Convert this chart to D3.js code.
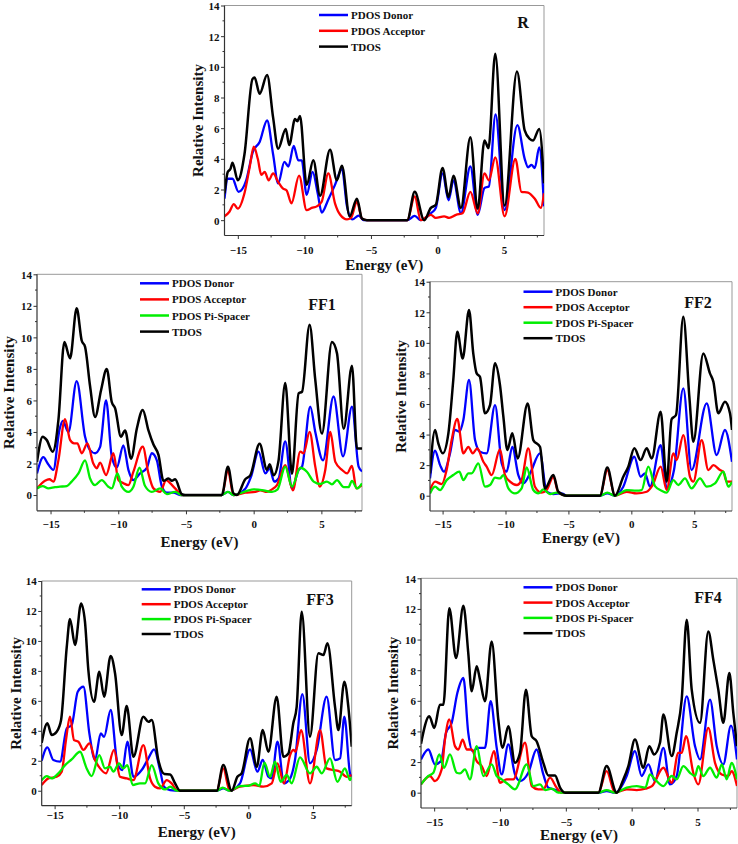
<!DOCTYPE html>
<html><head><meta charset="utf-8">
<script src="https://cdn.jsdelivr.net/npm/d3@7"></script>
<style>
html,body{margin:0;padding:0;background:#fff;}
svg text{font-family:"Liberation Serif","Times New Roman",serif;font-weight:bold;fill:#111;}
</style></head>
<body>
<svg id="chart" width="738" height="844"></svg>
<script>
// ---------- data (Energy eV, Relative Intensity) ----------
const seriesNames = ["PDOS Donor","PDOS Acceptor","PDOS Pi-Spacer","TDOS"];
const xTicks = [-15,-10,-5,0,5];
const yTicks = [0,2,4,6,8,10,12,14];

const R_donor = [[-16,1.4],[-15.75,2.7],[-15.4,2.7],[-14.95,1.85],[-14.37,2.6],[-13.87,4.45],[-13.36,5.1],[-12.8,6.5],[-12.35,4.3],[-11.97,2.4],[-11.5,3.8],[-11.2,3.5],[-10.8,4.85],[-10.46,3.9],[-10.2,3.9],[-9.83,1.65],[-9.38,3.15],[-9.0,1.75],[-8.7,0.5],[-8.2,1.35],[-7.7,2.3],[-7.18,3.35],[-6.8,0.9],[-6.4,0.05],[-5.92,0.3],[-5.55,0],[-2.27,0],[-1.71,0.28],[-1.26,0],[-0.5,0.45],[-0.13,0.8],[0.38,3.05],[0.83,1.3],[1.2,2.6],[1.76,0.45],[2.47,3.5],[3.02,0.35],[3.53,2.1],[3.86,2.2],[4.36,6.9],[5.04,0.65],[6.0,6.2],[6.55,4.0],[6.8,3.45],[7.06,3.6],[7.31,3.4],[7.64,4.75],[8.0,0.9]];
const R_acceptor = [[-16,0.25],[-15.63,0.55],[-15.3,1.05],[-15.0,0.75],[-14.5,1.75],[-14.1,3.5],[-13.8,4.8],[-13.5,4.0],[-13.23,2.95],[-12.98,3.15],[-12.68,2.6],[-12.35,3.05],[-11.97,2.5],[-11.6,2.05],[-11.34,1.95],[-10.97,1.1],[-10.4,2.9],[-9.83,0.65],[-9.45,0.8],[-9.07,0.9],[-8.7,1.2],[-8.2,3.05],[-7.7,1.1],[-7.31,0.35],[-6.8,0.05],[-6.5,0.15],[-6.05,1.2],[-5.67,0.1],[-5.3,0],[-2.27,0],[-1.71,1.55],[-1.26,0],[-0.5,0.35],[-0.13,0.15],[0.5,0.25],[0.88,0.15],[1.39,0.35],[1.89,0.45],[2.47,1.85],[3.02,0.45],[3.53,3.05],[3.86,2.6],[4.34,4.1],[5.04,0.25],[5.85,4.0],[6.3,1.85],[6.8,1.8],[7.31,1.4],[7.76,0.8],[8.0,1.75]];
const R_tdos = [[-16,1.75],[-15.75,3.15],[-15.55,3.35],[-15.4,3.75],[-15.0,2.6],[-14.5,4.3],[-13.9,9.2],[-13.74,9.3],[-13.36,8.25],[-12.8,9.47],[-12.35,6.7],[-11.97,4.66],[-11.4,5.95],[-11.14,4.9],[-10.7,6.6],[-10.53,6.45],[-10.33,6.8],[-9.83,2.3],[-9.33,3.9],[-8.82,1.6],[-8.07,4.6],[-7.56,2.6],[-7.18,3.55],[-6.6,0.25],[-6.05,1.4],[-5.67,0.1],[-5.3,0],[-2.27,0],[-1.71,1.85],[-1.0,0],[-0.5,0.8],[-0.13,1.0],[0.38,3.4],[0.83,1.5],[1.2,2.9],[1.76,0.8],[2.47,5.4],[3.02,0.75],[3.53,5.2],[3.83,4.7],[4.34,10.85],[5.04,0.95],[5.97,9.7],[6.55,5.85],[6.93,5.3],[7.18,5.2],[7.64,5.95],[8.0,2.4]];

const FF1_donor = [[-16,1.37],[-15.53,2.4],[-15.21,2.0],[-14.79,1.6],[-14.35,4.1],[-14.1,4.7],[-13.68,4.0],[-13.07,7.23],[-12.45,3.7],[-12.08,2.85],[-11.71,2.65],[-11.34,3.05],[-10.9,6.0],[-10.48,2.45],[-10.11,1.75],[-9.62,3.15],[-9.25,1.6],[-8.88,0.95],[-8.39,1.37],[-7.9,1.7],[-7.52,2.65],[-7.15,2.2],[-6.78,0.55],[-6.41,0.15],[-5.92,0.15],[-5.43,0],[-2.35,0],[-1.9,0.2],[-1.49,0],[-0.62,0.4],[-0.2,1.15],[0.36,2.75],[0.86,1.37],[1.18,1.7],[1.52,0.85],[1.84,1.05],[2.33,3.4],[2.83,0.42],[3.32,1.6],[3.57,1.8],[4.18,5.6],[4.55,4.0],[5.12,2.2],[5.9,6.25],[6.6,2.45],[7.26,5.6],[7.75,1.8],[8.0,1.5]];
const FF1_acceptor = [[-16,0.42],[-15.41,0.9],[-15.09,1.0],[-14.79,0.85],[-14.42,2.2],[-13.93,4.82],[-13.56,3.5],[-13.26,3.28],[-13.02,3.28],[-12.7,2.65],[-12.28,3.28],[-11.84,2.0],[-11.59,1.7],[-11.34,2.05],[-10.9,1.27],[-10.36,2.65],[-9.99,0.95],[-9.62,0.75],[-9.25,0.63],[-8.88,1.48],[-8.19,3.07],[-7.77,1.37],[-7.4,0.42],[-6.9,0.2],[-6.46,0.95],[-6.17,0.75],[-5.8,0.42],[-5.3,0],[-2.35,0],[-1.9,1.55],[-1.49,0],[-0.62,0.15],[0.12,0.2],[0.48,0.3],[0.98,0.2],[1.35,0.36],[1.72,0.63],[2.33,1.9],[2.9,0.3],[3.44,2.75],[3.69,2.65],[4.13,4.0],[4.55,1.8],[4.87,0.53],[5.29,1.6],[5.66,4.0],[6.03,2.1],[6.52,1.6],[6.9,1.37],[7.26,1.85],[7.58,0.42],[8.0,0.63]];
const FF1_spacer = [[-16,0.42],[-15.58,0.57],[-15.16,0.42],[-14.67,0.5],[-14.3,0.53],[-13.8,0.57],[-13.44,0.85],[-12.94,1.37],[-12.45,2.2],[-12.08,1.05],[-11.71,0.63],[-11.22,0.95],[-10.73,0.53],[-10.48,0.42],[-10.06,1.37],[-9.74,0.53],[-9.25,0.2],[-8.88,0.53],[-8.43,1.73],[-8.02,0.57],[-7.52,0.2],[-6.9,0.42],[-6.41,0.06],[-5.8,0.2],[-5.3,0],[-2.35,0],[-1.9,0.2],[-1.49,0],[-0.5,0.27],[0.0,0.36],[0.74,0.3],[1.35,0.2],[1.77,0.36],[2.33,1.8],[2.83,0.53],[3.44,1.73],[3.93,1.48],[4.43,0.85],[4.92,0.7],[5.41,0.85],[5.78,0.68],[6.15,0.95],[6.65,0.5],[7.0,0.5],[7.26,0.9],[7.63,0.42],[8.0,0.74]];
const FF1_tdos = [[-16,2.1],[-15.58,3.7],[-15.29,3.5],[-14.84,2.75],[-14.42,4.75],[-13.98,9.7],[-13.56,8.67],[-13.07,11.85],[-12.7,9.8],[-12.45,9.4],[-12.08,6.9],[-11.71,4.95],[-11.27,6.65],[-10.85,8.0],[-10.48,5.9],[-10.23,5.5],[-9.8,3.7],[-9.5,4.1],[-9.05,2.3],[-8.63,4.2],[-8.19,5.4],[-7.77,4.1],[-7.4,3.2],[-7.03,2.55],[-6.66,0.9],[-6.29,1.05],[-6.04,0.9],[-5.8,1.0],[-5.3,0.05],[-5.05,0],[-2.35,0],[-1.9,1.8],[-1.49,0.1],[-1.24,0],[-0.62,1.0],[-0.25,1.25],[0.44,3.25],[0.98,1.6],[1.18,1.95],[1.47,1.25],[1.84,2.2],[2.33,7.1],[2.83,1.35],[3.32,6.45],[3.57,6.55],[4.13,10.8],[4.55,7.3],[5.04,3.9],[5.78,9.7],[6.15,9.0],[6.65,4.2],[7.26,8.2],[7.63,2.95],[8.0,2.95]];

const FF2_donor = [[-16,1.13],[-15.6,2.94],[-15.2,2.0],[-14.89,1.57],[-14.41,2.77],[-14.01,4.3],[-13.67,4.19],[-13.35,4.95],[-12.9,7.57],[-12.42,3.64],[-12.03,2.88],[-11.5,2.77],[-10.83,5.93],[-10.3,2.12],[-9.91,1.57],[-9.46,3.2],[-8.98,1.35],[-8.58,0.81],[-8.05,1.46],[-7.26,2.77],[-6.73,0.26],[-6.2,0.11],[-5.54,0.15],[-5.14,0],[-2.49,0],[-1.91,0.15],[-1.3,0],[-0.64,0.59],[0.24,2.55],[0.74,1.24],[1.09,1.46],[1.48,0.59],[2.33,3.31],[2.81,0.48],[3.39,1.68],[4.13,7.02],[4.79,1.68],[5.99,6.04],[6.78,2.66],[7.44,4.3],[8.0,2.22]];
const FF2_acceptor = [[-16,0.37],[-15.6,0.92],[-15.07,0.76],[-14.68,1.68],[-14.28,3.64],[-13.83,5.02],[-13.35,2.77],[-12.95,3.2],[-12.61,2.77],[-12.24,3.1],[-11.76,2.22],[-11.5,1.9],[-11.1,1.35],[-10.44,3.03],[-10.04,1.35],[-9.64,0.92],[-9.11,0.7],[-8.72,1.02],[-8.19,3.1],[-7.66,0.59],[-7.13,0.2],[-6.73,0.37],[-6.2,1.24],[-5.8,0.2],[-5.14,0],[-2.49,0],[-1.91,1.68],[-1.3,0],[-0.37,0.26],[0.42,0.15],[1.22,0.26],[1.7,0.7],[2.33,1.9],[2.81,0.37],[3.34,2.77],[3.6,2.33],[4.13,3.97],[4.66,1.24],[4.93,0.92],[5.59,3.64],[6.12,1.68],[6.52,2.0],[7.05,1.68],[7.31,1.57],[7.58,0.92],[8.0,0.92]];
const FF2_spacer = [[-16,0.15],[-15.6,0.59],[-15.2,0.37],[-14.68,1.02],[-14.15,1.35],[-13.67,1.57],[-13.35,1.02],[-12.95,1.46],[-12.69,1.46],[-12.16,2.12],[-11.63,0.59],[-11.23,0.7],[-10.83,1.18],[-10.44,1.13],[-10.17,1.35],[-9.77,0.48],[-9.25,0.15],[-8.72,0.48],[-8.32,1.85],[-7.79,0.37],[-7.39,0.15],[-6.99,0.41],[-6.46,0.11],[-5.94,0.2],[-5.14,0],[-2.49,0],[-1.91,0.2],[-1.3,0],[-0.37,0.37],[0.42,0.33],[0.82,0.37],[1.35,1.9],[1.88,0.63],[2.41,0.33],[2.81,0.2],[3.34,1.02],[3.74,0.7],[4.26,1.13],[4.79,0.48],[5.46,1.13],[5.99,0.59],[6.65,0.81],[7.31,1.57],[7.71,0.59],[8.0,0.92]];
const FF2_tdos = [[-16,1.46],[-15.6,4.3],[-15.34,3.42],[-14.99,2.77],[-14.54,4.08],[-14.15,7.57],[-13.83,10.73],[-13.4,8.98],[-12.9,12.15],[-12.56,9.3],[-12.29,8.0],[-12.03,7.78],[-11.63,5.39],[-11.23,5.93],[-10.83,8.66],[-10.44,7.24],[-10.17,5.17],[-9.85,2.99],[-9.46,4.08],[-9.03,2.44],[-8.24,6.04],[-7.79,3.64],[-7.26,3.2],[-6.86,0.48],[-6.2,1.35],[-5.8,0.26],[-5.14,0],[-2.49,0],[-1.91,1.85],[-1.3,0],[-0.64,1.24],[-0.24,1.9],[0.24,3.1],[0.74,2.33],[1.22,3.1],[1.62,2.44],[2.33,5.5],[2.81,0.92],[3.2,5.0],[3.55,5.28],[4.13,11.7],[4.61,6.48],[4.93,3.53],[5.72,9.31],[6.25,8.0],[6.52,7.46],[6.91,5.39],[7.44,6.15],[7.84,5.39],[8.0,4.3]];

const FF3_donor = [[-16,2.0],[-15.56,2.89],[-15.1,2.05],[-14.58,1.94],[-14.06,4.16],[-13.68,4.38],[-13.21,6.61],[-12.77,6.94],[-12.31,3.83],[-11.87,2.05],[-11.43,3.83],[-11.17,3.6],[-10.66,5.39],[-10.14,1.83],[-9.75,1.38],[-9.37,3.27],[-8.9,0.93],[-8.26,1.38],[-7.74,2.16],[-7.3,2.76],[-6.84,1.38],[-6.53,0.27],[-6.06,0.04],[-5.29,0],[-2.45,0],[-1.94,0.16],[-1.45,0],[-0.65,0.49],[0.13,2.76],[0.7,1.27],[1.11,2.05],[1.55,0.93],[1.81,0.82],[2.25,3.27],[2.76,0.49],[3.23,0.82],[3.61,2.05],[4.18,6.45],[4.77,1.83],[5.29,2.72],[6.06,6.28],[6.71,2.05],[7.1,2.16],[7.43,4.94],[7.87,1.16],[8.0,0.93]];
const FF3_acceptor = [[-16,0.38],[-15.48,0.82],[-14.84,0.93],[-14.45,1.27],[-14.12,3.38],[-13.81,4.94],[-13.5,3.38],[-13.16,3.27],[-12.77,2.72],[-12.31,3.16],[-11.87,2.05],[-11.48,1.49],[-11.02,1.16],[-10.4,2.72],[-9.94,0.93],[-9.42,0.82],[-8.9,0.71],[-8.13,3.05],[-7.61,0.82],[-7.23,0.27],[-6.84,0.16],[-6.32,0.71],[-5.94,0.49],[-5.55,0.04],[-5.29,0],[-2.45,0],[-1.94,1.49],[-1.45,0],[-0.65,0.27],[0.39,0.38],[1.16,0.27],[1.81,0.49],[2.25,1.83],[2.76,0.49],[3.23,2.38],[3.5,2.72],[3.65,2.6],[4.08,4.05],[4.77,0.49],[5.55,4.05],[6.06,1.49],[6.58,1.38],[7.1,1.27],[7.61,0.93],[8.0,1.05]];
const FF3_spacer = [[-16,0.7],[-15.61,0.98],[-15.23,0.82],[-14.71,1.16],[-14.19,1.71],[-13.68,2.09],[-13.03,2.6],[-12.52,1.49],[-12.13,0.98],[-11.54,2.38],[-11.1,1.49],[-10.71,1.6],[-10.45,1.27],[-10.01,1.83],[-9.68,1.49],[-9.37,1.71],[-8.95,0.38],[-8.39,0.49],[-8.0,0.49],[-7.48,1.71],[-6.97,0.49],[-6.45,0.09],[-6.06,0.27],[-5.55,0],[-2.45,0],[-1.99,0.2],[-1.45,0],[-0.65,0.31],[0.0,0.33],[0.52,0.49],[0.85,0.33],[1.24,1.87],[1.68,0.93],[2.06,1.94],[2.5,0.6],[2.97,1.05],[3.35,0.49],[4.0,2.23],[4.77,1.16],[5.29,1.6],[5.68,1.16],[6.32,2.16],[6.89,0.6],[7.48,1.49],[7.87,0.71],[8.0,0.93]];
const FF3_tdos = [[-16,3.2],[-15.56,4.5],[-15.23,3.72],[-14.84,3.94],[-14.5,4.72],[-14.06,9.6],[-13.81,11.46],[-13.42,9.73],[-12.95,12.5],[-12.65,11.28],[-12.39,8.06],[-11.95,5.94],[-11.54,7.95],[-11.17,6.28],[-10.66,9.0],[-10.32,7.83],[-9.81,3.72],[-9.42,5.65],[-8.9,2.27],[-8.13,4.94],[-7.74,4.6],[-7.48,4.72],[-6.97,2.05],[-6.5,1.11],[-6.06,1.09],[-5.68,0.5],[-5.29,0],[-2.45,0],[-1.94,1.71],[-1.29,0],[-0.85,0.93],[-0.52,1.16],[0.13,3.5],[0.65,1.6],[1.11,4.05],[1.55,2.6],[2.19,6.28],[2.71,2.27],[3.1,2.49],[3.48,4.5],[3.74,5.6],[4.13,11.95],[4.77,3.6],[5.42,9.17],[5.81,9.06],[6.12,9.84],[6.71,5.6],[6.97,4.05],[7.43,7.28],[7.74,5.6],[8.0,2.94]];

const FF4_donor = [[-16,2.17],[-15.44,2.82],[-14.94,1.85],[-14.48,2.06],[-14.1,3.91],[-13.67,4.56],[-13.24,6.51],[-12.78,7.49],[-12.41,3.91],[-12.08,2.71],[-11.65,2.93],[-11.14,2.93],[-10.71,5.97],[-10.25,2.93],[-9.87,1.19],[-9.37,3.15],[-8.86,1.19],[-8.48,0.76],[-7.85,1.3],[-7.22,2.82],[-6.71,1.19],[-6.33,0.33],[-5.7,0.17],[-5.19,0],[-2.53,0],[-1.9,0.11],[-1.27,0],[-0.38,1.09],[0.25,2.71],[0.76,1.09],[1.27,1.85],[1.77,0.76],[2.41,2.93],[2.91,0.54],[3.42,1.09],[4.18,6.29],[4.81,3.04],[5.19,2.17],[5.95,6.08],[6.46,3.04],[6.96,1.85],[7.54,4.38],[8.0,2.17]];
const FF4_acceptor = [[-16,0.54],[-15.32,1.09],[-14.94,0.76],[-14.43,1.52],[-14.18,3.47],[-13.85,4.78],[-13.42,3.04],[-13.16,2.82],[-12.84,3.47],[-12.53,2.82],[-12.15,2.82],[-11.77,2.06],[-11.39,1.74],[-11.01,1.09],[-10.46,2.71],[-10.0,0.65],[-9.49,0.87],[-8.99,0.87],[-8.1,3.26],[-7.59,0.43],[-7.09,0.22],[-6.71,0.22],[-6.2,0.98],[-5.7,0.33],[-5.32,0],[-2.53,0],[-1.9,1.41],[-1.27,0],[-0.38,0.22],[0.38,0.17],[1.04,0.26],[1.54,0.43],[2.41,1.63],[3.04,0.65],[3.54,2.6],[3.8,2.6],[4.13,3.69],[4.68,1.3],[5.06,0.54],[5.82,4.23],[6.33,1.95],[6.84,1.19],[7.34,1.09],[7.59,1.41],[8.0,0.43]];
const FF4_spacer = [[-16,0.54],[-15.44,1.09],[-15.06,1.3],[-14.61,2.5],[-14.25,1.63],[-13.8,2.5],[-13.29,1.3],[-13.04,1.26],[-12.66,1.52],[-12.28,0.87],[-11.77,3.04],[-11.27,1.09],[-10.63,1.85],[-10.25,1.09],[-9.87,0.87],[-9.37,0.54],[-8.86,0.22],[-7.97,1.85],[-7.47,0.43],[-6.96,0.54],[-6.58,0.17],[-6.08,0.26],[-5.57,0],[-2.53,0],[-1.9,0.17],[-1.27,0],[-0.38,0.33],[0.38,0.43],[1.04,0.33],[1.39,1.19],[1.77,0.87],[2.41,0.43],[3.04,1.09],[3.42,0.87],[3.92,1.74],[4.43,1.3],[4.81,1.09],[5.06,1.74],[5.44,1.09],[5.95,1.63],[6.46,0.98],[6.84,1.85],[7.22,0.87],[7.59,1.95],[8.0,0.87]];
const FF4_tdos = [[-16,3.2],[-15.37,4.99],[-14.99,4.23],[-14.56,5.75],[-14.3,5.75],[-13.85,12.05],[-13.34,8.79],[-12.78,12.2],[-12.41,9.12],[-12.15,6.62],[-11.77,8.25],[-11.52,7.38],[-11.14,5.97],[-10.63,9.88],[-10.13,4.78],[-9.8,2.93],[-9.37,4.34],[-8.86,1.95],[-8.48,2.6],[-8.03,6.73],[-7.59,3.69],[-7.22,3.36],[-6.71,1.95],[-6.33,1.13],[-5.82,1.13],[-5.44,0.33],[-5.06,0],[-2.53,0],[-1.9,1.74],[-1.14,0],[-0.63,0.87],[-0.25,1.74],[0.25,3.47],[0.89,1.63],[1.34,3.04],[1.7,2.5],[2.15,3.26],[2.41,5.1],[3.04,2.39],[3.42,3.91],[3.8,6.08],[4.18,11.29],[4.56,6.73],[5.19,4.56],[5.82,10.53],[6.2,8.68],[6.58,6.73],[6.96,4.56],[7.42,7.81],[7.72,5.21],[8.0,3.04]];

// ---------- layout ----------
const colors = {"PDOS Donor":"#0000ff","PDOS Acceptor":"#ff0000","PDOS Pi-Spacer":"#00ee00","TDOS":"#000000"};
const panels = [
  {label:"R",  L:224.5,R:544,T:5.5,B:235.5, data:{"PDOS Donor":R_donor,"PDOS Acceptor":R_acceptor,"TDOS":R_tdos},
   legX:319,legY:15,legDy:15.8, labX:523,labY:22, yTitleX:198, xTickY:250, xTitleY:265},
  {label:"FF1",L:37,R:362,T:274.3,B:510.8, data:{"PDOS Donor":FF1_donor,"PDOS Acceptor":FF1_acceptor,"PDOS Pi-Spacer":FF1_spacer,"TDOS":FF1_tdos},
   legX:140,legY:283.3,legDy:16.1, labX:322,labY:304, yTitleX:9, xTickY:524, xTitleY:541.5},
  {label:"FF2",L:430,R:732,T:281.7,B:511, data:{"PDOS Donor":FF2_donor,"PDOS Acceptor":FF2_acceptor,"PDOS Pi-Spacer":FF2_spacer,"TDOS":FF2_tdos},
   legX:523.5,legY:291.7,legDy:15.5, labX:698,labY:302.5, yTitleX:401, xTickY:524, xTitleY:538},
  {label:"FF3",L:41.7,R:351.7,T:581,B:805.7, data:{"PDOS Donor":FF3_donor,"PDOS Acceptor":FF3_acceptor,"PDOS Pi-Spacer":FF3_spacer,"TDOS":FF3_tdos},
   legX:141.7,legY:589.3,legDy:14.9, labX:320,labY:599.5, yTitleX:15.5, xTickY:815, xTitleY:831.5},
  {label:"FF4",L:421,R:737,T:578.3,B:808, data:{"PDOS Donor":FF4_donor,"PDOS Acceptor":FF4_acceptor,"PDOS Pi-Spacer":FF4_spacer,"TDOS":FF4_tdos},
   legX:523.5,legY:587.3,legDy:15.3, labX:708,labY:597.5, yTitleX:393, xTickY:821.5, xTitleY:835}
];

const svg = d3.select("#chart");

panels.forEach((p, pi) => {
  const x = d3.scaleLinear().domain([-16, 8]).range([p.L, p.R]);
  const y = d3.scaleLinear().domain([-1, 14]).range([p.B, p.T]);
  const g = svg.append("g");

  const clipId = "clip" + pi;
  svg.append("clipPath").attr("id", clipId).append("rect")
    .attr("x", p.L).attr("y", p.T - 2).attr("width", p.R - p.L).attr("height", p.B - p.T + 2);

  // frame: top & right light
  g.append("line").attr("x1", p.L).attr("x2", p.R).attr("y1", p.T).attr("y2", p.T)
    .attr("stroke", "#999").attr("stroke-width", 1);
  g.append("line").attr("x1", p.R).attr("x2", p.R).attr("y1", p.T).attr("y2", p.B)
    .attr("stroke", "#999").attr("stroke-width", 1);

  // curves
  const line = d3.line().x(d => x(d[0])).y(d => y(d[1])).curve(d3.curveMonotoneX);
  const cg = g.append("g").attr("clip-path", `url(#${clipId})`);
  Object.keys(p.data).forEach(name => {
    cg.append("path").datum(p.data[name]).attr("d", line)
      .attr("fill", "none").attr("stroke", colors[name])
      .attr("stroke-width", name === "TDOS" ? 2.5 : 2.3)
      .attr("stroke-linejoin", "round");
  });

  // axes
  const xAxis = d3.axisBottom(x).tickValues(xTicks).tickSize(3.5).tickFormat(d3.format("d"));
  const yAxis = d3.axisLeft(y).tickValues(yTicks).tickSize(3.5).tickFormat(d3.format("d"));
  const xa = g.append("g").attr("transform", `translate(0,${p.B})`).call(xAxis);
  const ya = g.append("g").attr("transform", `translate(${p.L},0)`).call(yAxis);
  [xa, ya].forEach(a => {
    a.select(".domain").attr("stroke", "#333").attr("stroke-width", 1.2)
      .attr("d", a === xa ? `M${p.L},0H${p.R}` : `M0,${p.B}V${p.T}`);
    a.selectAll(".tick line").attr("stroke", "#333");
    a.selectAll(".tick text").style("font-size", "11px").attr("fill", "#111");
  });
  xa.selectAll(".tick text").attr("y", null).attr("dy", null)
    .attr("y", p.xTickY - p.B).attr("dominant-baseline", "central");
  ya.selectAll(".tick text").attr("x", -5).attr("dy", "0.35em");
  // minor ticks
  const xMinor = [-12.5, -7.5, -2.5, 2.5, 7.5];
  xMinor.forEach(v => g.append("line").attr("x1", x(v)).attr("x2", x(v))
    .attr("y1", p.B).attr("y2", p.B + 2).attr("stroke", "#333"));
  [1,3,5,7,9,11,13].forEach(v => g.append("line").attr("x1", p.L).attr("x2", p.L - 2)
    .attr("y1", y(v)).attr("y2", y(v)).attr("stroke", "#333"));

  // titles
  g.append("text").attr("x", (p.L + p.R) / 2).attr("y", p.xTitleY)
    .attr("text-anchor", "middle").attr("dominant-baseline", "central")
    .style("font-size", "15px").text("Energy (eV)");
  g.append("text").attr("transform", `translate(${p.yTitleX},${(p.T + p.B) / 2}) rotate(-90)`)
    .attr("text-anchor", "middle").attr("dominant-baseline", "central")
    .style("font-size", "15px").text("Relative Intensity");

  // legend
  Object.keys(p.data).forEach((name, i) => {
    const ly = p.legY + i * p.legDy;
    g.append("line").attr("x1", p.legX).attr("x2", p.legX + 29).attr("y1", ly).attr("y2", ly)
      .attr("stroke", colors[name]).attr("stroke-width", 2.5);
    g.append("text").attr("x", p.legX + 32).attr("y", ly).attr("dominant-baseline", "central")
      .style("font-size", "11px").text(name);
  });

  // panel label
  g.append("text").attr("x", p.labX).attr("y", p.labY).attr("text-anchor", "middle")
    .attr("dominant-baseline", "central").style("font-size", "16px").text(p.label);
});
</script>
</body></html>
